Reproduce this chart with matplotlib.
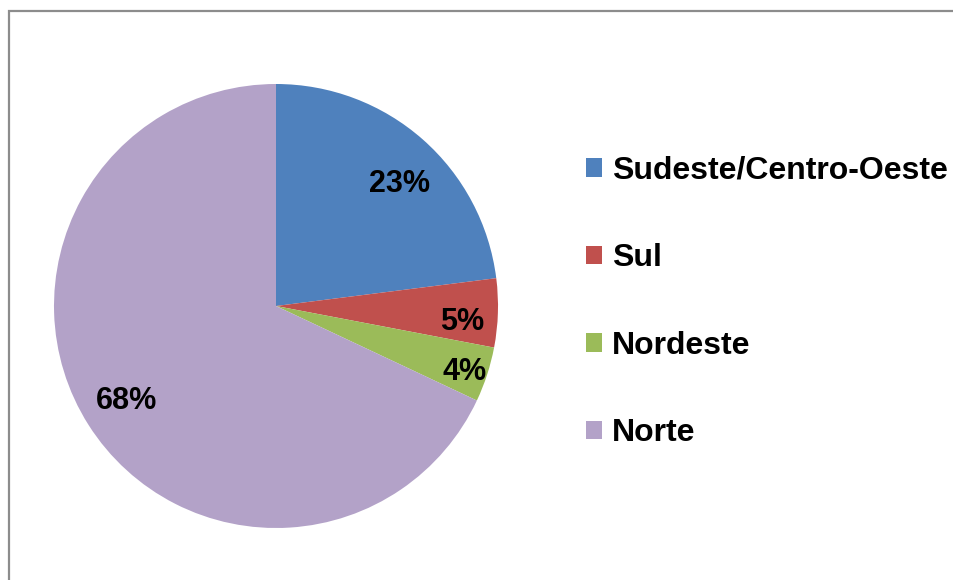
import numpy as np
import matplotlib.pyplot as plt
from matplotlib.patches import Rectangle, Patch

plt.rcParams['font.family'] = ['Liberation Sans', 'DejaVu Sans']

regions = ['Sudeste/Centro-Oeste', 'Sul', 'Nordeste', 'Norte']
shares = [23, 5, 4, 68]
colors = ['#4F81BD', '#C0504D', '#9BBB59', '#B3A2C8']
# label placement: radial distance and small angle nudge (deg) per slice
label_dist = [0.78, 0.84, 0.90, 0.80]
label_nudge = [-4, -3, -1.4, 0]

W, H = 954, 580
fig = plt.figure(figsize=(W / 100, H / 100), dpi=100)

# outer frame, only top and left edges visible
fig.patches.append(Rectangle((9 / W, -0.1), 1.2, 1 - 11 / H + 0.1,
                             transform=fig.transFigure, fill=False,
                             edgecolor='#8c8c8c', linewidth=1.6))

cx, cy, r = 276, 306, 222
ax = fig.add_axes([(cx - r) / W, (H - cy - r) / H, 2 * r / W, 2 * r / H])
wedges, _ = ax.pie(shares, colors=colors, startangle=90, counterclock=False,
                   radius=1, wedgeprops=dict(linewidth=0))
ax.set_xlim(-1, 1)
ax.set_ylim(-1, 1)
ax.set_aspect('equal')
ax.axis('off')

for w, s, d, n in zip(wedges, shares, label_dist, label_nudge):
    ang = np.deg2rad((w.theta1 + w.theta2) / 2 + n)
    ax.text(d * np.cos(ang), d * np.sin(ang), f'{s}%', ha='center', va='center',
            fontsize=22, fontweight='bold', color='black')

handles = [Patch(facecolor=c, edgecolor='none') for c in colors]
fig.legend(handles, regions, loc='upper left', bbox_to_anchor=(573 / W, 1 - 143 / H),
           frameon=False, prop=dict(size=23, weight='bold'),
           handlelength=0.5, handleheight=0.5, handletextpad=0.31,
           labelspacing=1.8, borderaxespad=0)

fig.savefig('out.png', dpi=100)
